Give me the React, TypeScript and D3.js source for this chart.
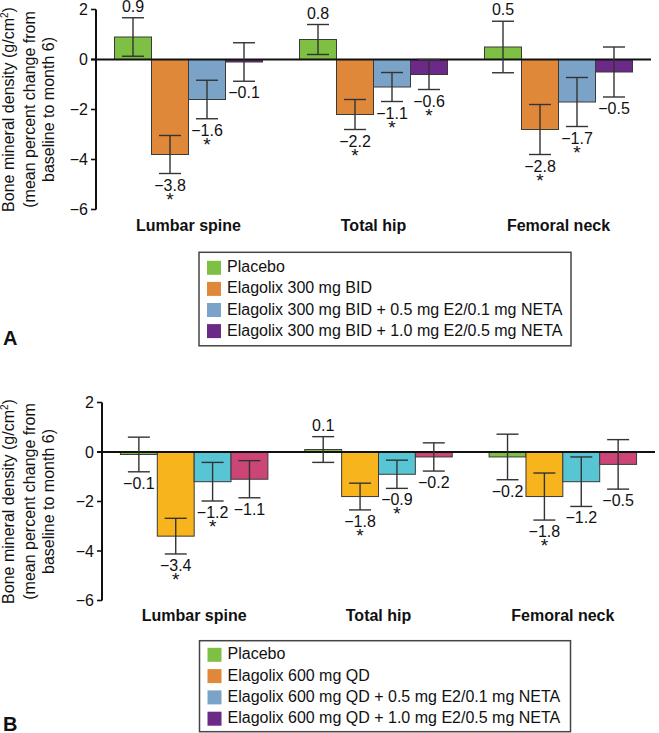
import React from "react";
import * as d3 from "d3";

const FONT = "'Liberation Sans', Arial, Helvetica, sans-serif";

const categories = ["Lumbar spine", "Total hip", "Femoral neck"];
const tickValues = [2, 0, -2, -4, -6];

// Panel A
const seriesA = [
  "Placebo",
  "Elagolix 300 mg BID",
  "Elagolix 300 mg BID + 0.5 mg E2/0.1 mg NETA",
  "Elagolix 300 mg BID + 1.0 mg E2/0.5 mg NETA",
];
const valuesA = [
  [0.9, 0.8, 0.5],
  [-3.8, -2.2, -2.8],
  [-1.6, -1.1, -1.7],
  [-0.1, -0.6, -0.5],
];
const errorsA = [
  [0.77, 0.6, 1.03],
  [0.76, 0.6, 1.0],
  [0.77, 0.58, 0.98],
  [0.77, 0.6, 1.0],
];
const sigA = [
  [false, false, false],
  [true, true, true],
  [true, true, true],
  [false, true, false],
];
const colorsA = ["#7DC043", "#E0883A", "#7BA3C8", "#6C2A88"];

// Panel B
const seriesB = [
  "Placebo",
  "Elagolix 600 mg QD",
  "Elagolix 600 mg QD + 0.5 mg E2/0.1 mg NETA",
  "Elagolix 600 mg QD + 1.0 mg E2/0.5 mg NETA",
];
const valuesB = [
  [-0.1, 0.1, -0.2],
  [-3.4, -1.8, -1.8],
  [-1.2, -0.9, -1.2],
  [-1.1, -0.2, -0.5],
];
const errorsB = [
  [0.7, 0.52, 0.92],
  [0.72, 0.54, 0.95],
  [0.78, 0.57, 1.0],
  [0.75, 0.57, 1.0],
];
const sigB = [
  [false, false, false],
  [true, true, true],
  [true, true, false],
  [false, false, false],
];
const colorsB = ["#7DC043", "#F8B41C", "#58C5D5", "#CD4577"];
const legendColorsB = ["#7DC043", "#E0883A", "#7BA3C8", "#6C2A88"];

const fmt = d3.format(".1f");

type Layout = {
  axisX: number;
  xEnd: number;
  yTop: number;
  yBottom: number;
  catY: number;
  legX: number;
  legY: number;
  legW: number;
  legH: number;
  legFirst: number;
  legStep: number;
  panelLabel: string;
  panelLabelY: number;
};

function Panel(props: {
  series: string[];
  values: number[][];
  errors: number[][];
  sig: boolean[][];
  colors: string[];
  legendColors: string[];
  L: Layout;
}) {
  const { series, values, errors, sig, colors, legendColors, L } = props;
  const x0 = d3
    .scaleBand<string>()
    .domain(categories)
    .range([L.axisX, L.xEnd])
    .paddingInner(0.2)
    .paddingOuter(0.1);
  const x1 = d3
    .scaleBand<number>()
    .domain(series.map((_, i) => i))
    .range([0, x0.bandwidth()])
    .padding(0);
  const y = d3.scaleLinear().domain([-6, 2]).range([L.yBottom, L.yTop]);
  const y0 = y(0);
  const titleCY = (L.yTop + L.yBottom) / 2;

  const bars: React.ReactNode[] = [];
  const errs: React.ReactNode[] = [];
  const labels: React.ReactNode[] = [];
  series.forEach((s, si) => {
    categories.forEach((c, ci) => {
      const v = values[si][ci];
      const e = errors[si][ci];
      const bx = (x0(c) as number) + (x1(si) as number);
      const bw = x1.bandwidth();
      const cx = bx + bw / 2;
      bars.push(
        <rect
          key={`b${si}-${ci}`}
          x={bx}
          y={Math.min(y(v), y0)}
          width={bw}
          height={Math.abs(y(v) - y0)}
          fill={colors[si]}
          stroke="#3a3a3a"
          strokeWidth={1}
        />
      );
      const yHi = y(v + e);
      const yLo = y(v - e);
      errs.push(
        <g key={`e${si}-${ci}`} stroke="#333" strokeWidth={1.4}>
          <line x1={cx} x2={cx} y1={yHi} y2={yLo} />
          <line x1={cx - 11} x2={cx + 11} y1={yHi} y2={yHi} />
          <line x1={cx - 11} x2={cx + 11} y1={yLo} y2={yLo} />
        </g>
      );
      const ly = v >= 0 ? yHi - 6 : yLo + 17;
      labels.push(
        <text
          key={`l${si}-${ci}`}
          x={cx}
          y={ly}
          textAnchor="middle"
          fontSize={16}
          fill="#111"
        >
          {fmt(v)}
        </text>
      );
      if (sig[si][ci]) {
        labels.push(
          <text
            key={`s${si}-${ci}`}
            x={cx}
            y={ly + 15}
            textAnchor="middle"
            fontSize={19}
            fill="#111"
          >
            *
          </text>
        );
      }
    });
  });

  return (
    <g fontFamily={FONT}>
      {/* y-axis title */}
      <g transform={`translate(14,${titleCY}) rotate(-90)`}>
        <text textAnchor="middle" fontSize={16} fill="#111">
          Bone mineral density (g/cm
          <tspan fontSize={10} dy={-6}>
            2
          </tspan>
          <tspan dy={6}>)</tspan>
        </text>
      </g>
      <g transform={`translate(34.5,${titleCY}) rotate(-90)`}>
        <text textAnchor="middle" fontSize={16} fill="#111">
          (mean percent change from
        </text>
      </g>
      <g transform={`translate(54,${titleCY}) rotate(-90)`}>
        <text textAnchor="middle" fontSize={16} fill="#111">
          baseline to month 6)
        </text>
      </g>

      {bars}

      {/* axis */}
      <line x1={L.axisX} x2={L.axisX} y1={y(2)} y2={y(-6)} stroke="#111" strokeWidth={2} />
      {tickValues.map((t) => (
        <g key={t}>
          <line x1={L.axisX - 5} x2={L.axisX} y1={y(t)} y2={y(t)} stroke="#111" strokeWidth={1.6} />
          <text x={L.axisX - 8} y={y(t)} dy="0.36em" textAnchor="end" fontSize={16} fill="#111">
            {d3.format("d")(t)}
          </text>
        </g>
      ))}
      <line x1={L.axisX - 5} x2={L.xEnd} y1={y0} y2={y0} stroke="#111" strokeWidth={2} />

      {errs}
      {labels}

      {categories.map((c) => (
        <text
          key={c}
          x={(x0(c) as number) + x0.bandwidth() / 2}
          y={L.catY}
          textAnchor="middle"
          fontSize={16}
          fontWeight="bold"
          fill="#111"
        >
          {c}
        </text>
      ))}

      {/* legend */}
      <rect
        x={L.legX}
        y={L.legY}
        width={L.legW}
        height={L.legH}
        fill="none"
        stroke="#444"
        strokeWidth={1.5}
      />
      {series.map((s, i) => {
        const by = L.legFirst + i * L.legStep;
        return (
          <g key={s}>
            <rect x={L.legX + 8} y={by - 11.5} width={14} height={14} fill={legendColors[i]} />
            <text x={L.legX + 28} y={by} fontSize={16} fill="#111">
              {s}
            </text>
          </g>
        );
      })}

      <text x={3} y={L.panelLabelY} fontSize={20} fontWeight="bold" fill="#111">
        {L.panelLabel}
      </text>
    </g>
  );
}

const layoutA: Layout = {
  axisX: 96,
  xEnd: 651,
  yTop: 9.5,
  yBottom: 209.5,
  catY: 231,
  legX: 199,
  legY: 252.3,
  legW: 372,
  legH: 93.5,
  legFirst: 272.3,
  legStep: 21.1,
  panelLabel: "A",
  panelLabelY: 345,
};

const layoutB: Layout = {
  axisX: 102,
  xEnd: 655,
  yTop: 402.5,
  yBottom: 600.5,
  catY: 621,
  legX: 199.5,
  legY: 640.7,
  legW: 371,
  legH: 91,
  legFirst: 659.3,
  legStep: 21.3,
  panelLabel: "B",
  panelLabelY: 731,
};

export default function App() {
  return (
    <svg
      width={659}
      height={733}
      style={{ position: "absolute", left: 0, top: 0, background: "#fff" }}
    >
      <Panel
        series={seriesA}
        values={valuesA}
        errors={errorsA}
        sig={sigA}
        colors={colorsA}
        legendColors={colorsA}
        L={layoutA}
      />
      <Panel
        series={seriesB}
        values={valuesB}
        errors={errorsB}
        sig={sigB}
        colors={colorsB}
        legendColors={legendColorsB}
        L={layoutB}
      />
    </svg>
  );
}
